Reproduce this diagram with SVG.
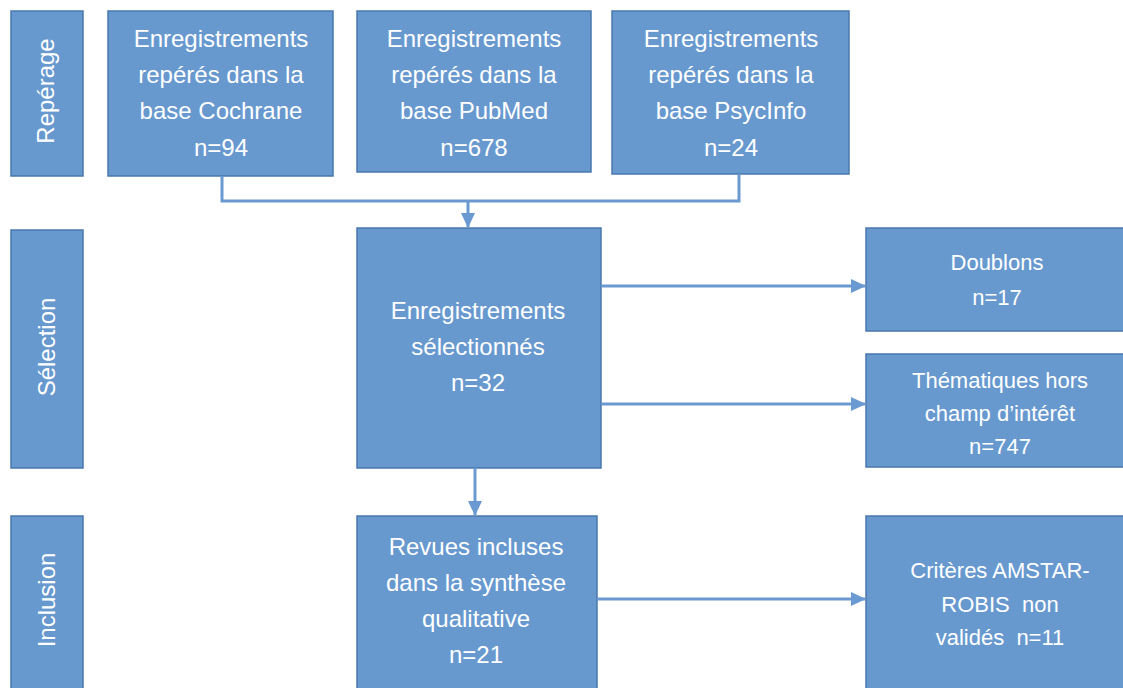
<svg xmlns="http://www.w3.org/2000/svg" width="1123" height="688" viewBox="0 0 1123 688">
<style>
.box{fill:#6799cf;stroke:#4a78ad;stroke-width:1.5}
.t{font-family:"Liberation Sans",Arial,sans-serif;fill:#ffffff;text-anchor:middle;font-size:24px}
.s{font-size:22px}
.c{fill:none;stroke:#6a9ad1;stroke-width:3}
</style>
<defs>
<marker id="ah" markerUnits="userSpaceOnUse" markerWidth="16" markerHeight="16" refX="14" refY="7" orient="auto">
<path d="M0,0 L15,7 L0,14 Z" fill="#6a9ad1"/>
</marker>
</defs>
<rect width="1123" height="688" fill="#ffffff"/>
<g id="lbl-reperage"><rect class="box" x="11" y="11" width="72" height="165"/><text class="t" transform="translate(54,91) rotate(-90)">Repérage</text></g>
<g id="lbl-selection"><rect class="box" x="11" y="230" width="72" height="238"/><text class="t" transform="translate(55,347) rotate(-90)">Sélection</text></g>
<g id="lbl-inclusion"><rect class="box" x="11" y="516" width="72" height="180"/><text class="t" transform="translate(55,600) rotate(-90)">Inclusion</text></g>
<g id="cochrane"><rect class="box" x="108" y="11" width="225" height="165"/><text class="t"><tspan x="221" y="47">Enregistrements</tspan><tspan x="221" y="83">repérés dans la</tspan><tspan x="221" y="119">base Cochrane</tspan><tspan x="221" y="156">n=94</tspan></text></g>
<g id="pubmed"><rect class="box" x="357" y="11" width="234" height="161"/><text class="t"><tspan x="474" y="47">Enregistrements</tspan><tspan x="474" y="83">repérés dans la</tspan><tspan x="474" y="119">base PubMed</tspan><tspan x="474" y="156">n=678</tspan></text></g>
<g id="psycinfo"><rect class="box" x="612" y="11" width="237" height="163"/><text class="t"><tspan x="731" y="47">Enregistrements</tspan><tspan x="731" y="83">repérés dans la</tspan><tspan x="731" y="119">base PsycInfo</tspan><tspan x="731" y="156">n=24</tspan></text></g>
<g id="selectionnes"><rect class="box" x="357" y="228" width="244" height="240"/><text class="t"><tspan x="478" y="319">Enregistrements</tspan><tspan x="478" y="355">sélectionnés</tspan><tspan x="478" y="391">n=32</tspan></text></g>
<g id="doublons"><rect class="box" x="866" y="228" width="270" height="103"/><text class="t s"><tspan x="997" y="270">Doublons</tspan><tspan x="997" y="305">n=17</tspan></text></g>
<g id="thematiques"><rect class="box" x="866" y="354" width="270" height="113"/><text class="t s"><tspan x="1000" y="388">Thématiques hors</tspan><tspan x="1000" y="421">champ d’intérêt</tspan><tspan x="1000" y="454">n=747</tspan></text></g>
<g id="revues"><rect class="box" x="357" y="516" width="240" height="180"/><text class="t"><tspan x="476" y="555">Revues incluses</tspan><tspan x="476" y="591">dans la synthèse</tspan><tspan x="476" y="627">qualitative</tspan><tspan x="476" y="663">n=21</tspan></text></g>
<g id="criteres"><rect class="box" x="866" y="516" width="270" height="180"/><text class="t s" xml:space="preserve"><tspan x="1000" y="578">Critères AMSTAR-</tspan><tspan x="1000" y="612">ROBIS  non</tspan><tspan x="1000" y="645">validés  n=11</tspan></text></g>
<g id="connectors">
<path class="c" d="M222,176 V201 H739 V174"/>
<path class="c" d="M468,201 V227" marker-end="url(#ah)"/>
<path class="c" d="M601,286 H865" marker-end="url(#ah)"/>
<path class="c" d="M601,404 H865" marker-end="url(#ah)"/>
<path class="c" d="M475,468 V515" marker-end="url(#ah)"/>
<path class="c" d="M597,599 H865" marker-end="url(#ah)"/>
</g>
</svg>
